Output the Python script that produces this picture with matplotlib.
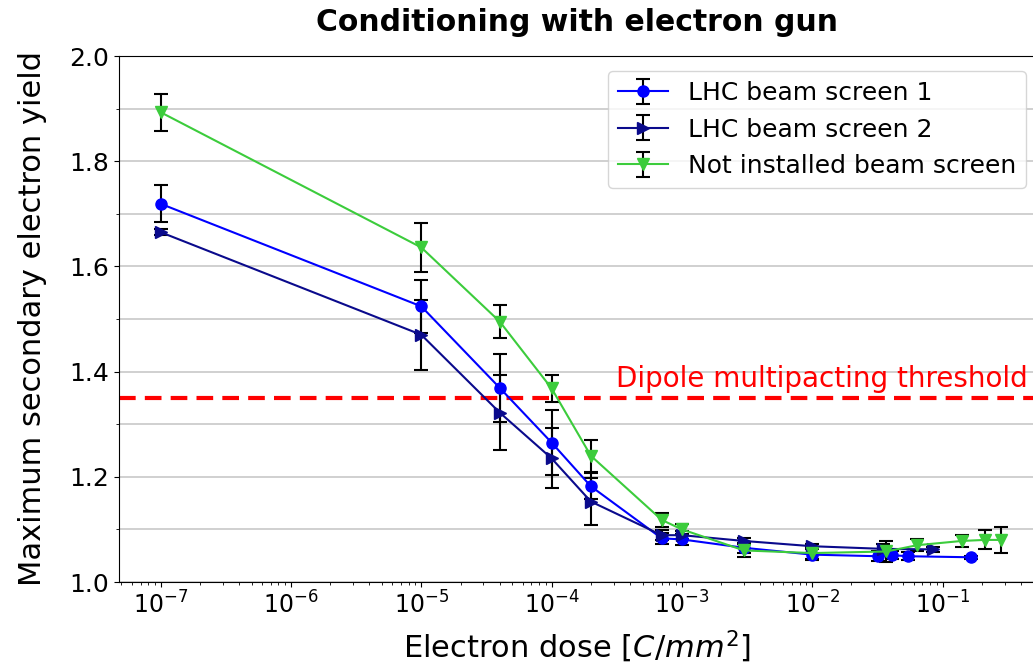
import numpy as np
import matplotlib
matplotlib.use("Agg")
import matplotlib.pyplot as plt
from matplotlib.ticker import MultipleLocator

# LHC beam screen 1
dose_bs1 = [1e-7, 1e-5, 4e-5, 1e-4, 2e-4, 7e-4, 1e-3, 3e-3, 1e-2, 3.2e-2, 4.1e-2, 5.4e-2, 1.65e-1]
sey_bs1 = [1.719, 1.524, 1.369, 1.265, 1.182, 1.083, 1.081, 1.065, 1.052, 1.049, 1.051, 1.049, 1.047]
err_bs1 = [0.035, 0.051, 0.064, 0.062, 0.025, 0.010, 0.010, 0.010, 0.010, 0.010, 0.008, 0.008, 0.003]

# LHC beam screen 2
dose_bs2 = [1e-7, 1e-5, 4e-5, 1e-4, 2e-4, 7e-4, 1e-3, 3e-3, 1e-2, 3.5e-2, 8.5e-2]
sey_bs2 = [1.665, 1.470, 1.322, 1.235, 1.153, 1.089, 1.089, 1.078, 1.068, 1.063, 1.062]
err_bs2 = [0.006, 0.067, 0.071, 0.057, 0.045, 0.010, 0.008, 0.006, 0.005, 0.010, 0.005]

# not installed beam screen
dose_ni = [1e-7, 1e-5, 4e-5, 1e-4, 2e-4, 7e-4, 1e-3, 3e-3, 1e-2, 3.7e-2, 6.4e-2, 1.4e-1, 2.1e-1, 2.8e-1]
sey_ni = [1.893, 1.636, 1.495, 1.368, 1.240, 1.118, 1.100, 1.060, 1.055, 1.058, 1.070, 1.078, 1.080, 1.080]
err_ni = [0.035, 0.046, 0.031, 0.026, 0.030, 0.014, 0.010, 0.012, 0.012, 0.020, 0.012, 0.011, 0.018, 0.024]

threshold = 1.35

W, H = 1033, 666
fig = plt.figure(figsize=(W / 100, H / 100), dpi=100)
ax = fig.add_axes([119 / W, 1 - 582 / H, (1034 - 119) / W, (582 - 56) / H])

eb = dict(ecolor="black", elinewidth=1.5, capsize=5, capthick=1.5, lw=1.5, ms=8)
ax.errorbar(dose_bs1, sey_bs1, yerr=err_bs1, color="blue", marker="o",
            label="LHC beam screen 1", **eb)
ax.errorbar(dose_bs2, sey_bs2, yerr=err_bs2, color="#0a0a8c", marker=">",
            label="LHC beam screen 2", **eb)
ax.errorbar(dose_ni, sey_ni, yerr=err_ni, color="#3ccc3c", marker="v",
            label="Not installed beam screen", **eb)

ax.axhline(threshold, color="red", ls="--", lw=3, dashes=(4, 2.2))
ax.text(0.45, threshold + 0.01, "Dipole multipacting threshold", color="red",
        fontsize=20, ha="right", va="bottom")

ax.set_xscale("log")
ax.set_xlim(10 ** -7.32, 10 ** -0.298)
ax.set_ylim(1.0, 2.0)
ax.yaxis.set_major_locator(MultipleLocator(0.2))
ax.yaxis.set_minor_locator(MultipleLocator(0.1))
ax.grid(True, axis="y", which="both", color="#c8c8c8", lw=1.2)
ax.set_axisbelow(True)
ax.tick_params(axis="y", labelsize=18)
ax.tick_params(axis="x", labelsize=17)
ax.spines["right"].set_visible(False)

ax.set_xlabel("Electron dose [$C/mm^2$]", fontsize=22, labelpad=7)
ax.set_ylabel("Maximum secondary electron yield", fontsize=22, labelpad=16)
ax.set_title("Conditioning with electron gun", fontsize=21.5, fontweight="bold", pad=18)

ax.legend(loc="upper right", fontsize=18, bbox_to_anchor=(1.005, 0.995),
          handlelength=2.0)

fig.savefig("out.png", dpi=100)
